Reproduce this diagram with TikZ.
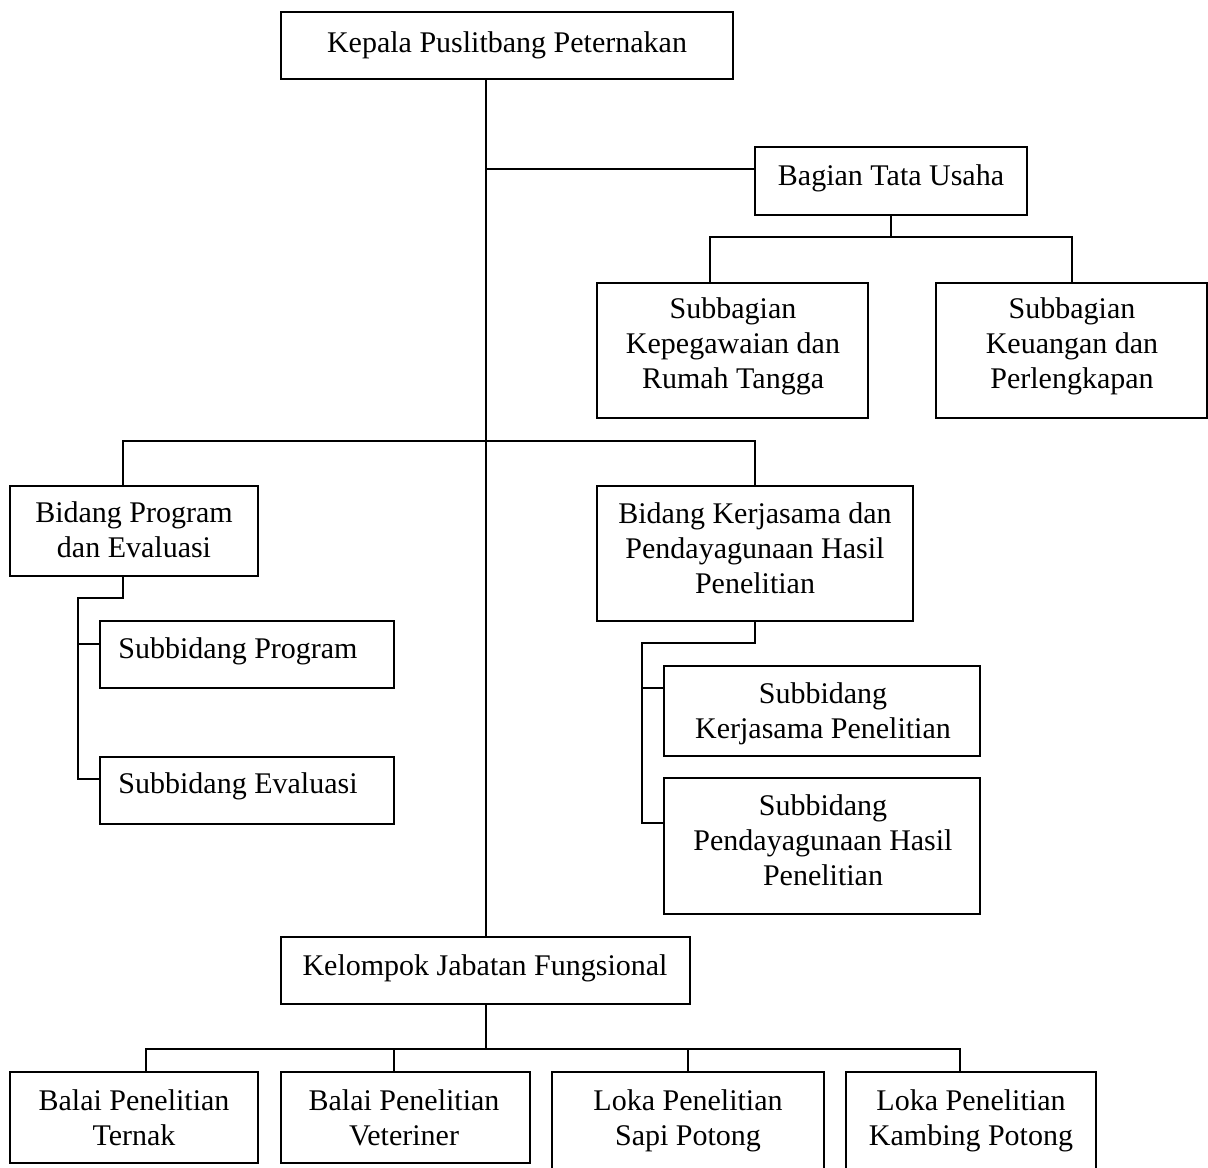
\documentclass[tikz,border=0pt]{standalone}
\usepackage{fontspec}
\setmainfont{Liberation Serif}
\tikzset{
  obox/.style={draw, line width=1pt, inner sep=0pt, rectangle},
  otext/.style={anchor=base, align=center, font=\fontsize{15}{17.3}\selectfont, inner sep=0pt},
  conn/.style={line width=1pt}
}
\newcommand{\orgbox}[5]{%
  \node[obox, minimum width={(#4-#2)*0.5pt}, minimum height={(#5-#3)*0.5pt}] (#1) at ({(#2+#4)/2},{(#3+#5)/2}) {};}
\begin{document}
\begin{tikzpicture}[x=0.5pt,y=-0.5pt]
\useasboundingbox (0,0) rectangle (1208,1167);
\clip (0,0) rectangle (1208,1167);
% boxes
\orgbox{top}{281}{12}{733}{79}
\orgbox{btu}{755}{147}{1027}{215}
\orgbox{sk}{597}{283}{868}{418}
\orgbox{sku}{936}{283}{1207}{418}
\orgbox{bp}{10}{486}{258}{576}
\orgbox{spg}{100}{621}{394}{688}
\orgbox{sev}{100}{757}{394}{824}
\orgbox{bk}{597}{486}{913}{621}
\orgbox{skp}{664}{666}{980}{756}
\orgbox{sph}{664}{778}{980}{914}
\orgbox{kjf}{281}{937}{690}{1004}
\orgbox{ba}{10}{1072}{258}{1163}
\orgbox{bb}{281}{1072}{530}{1163}
\orgbox{bc}{552}{1072}{824}{1190}
\orgbox{bd}{846}{1072}{1096}{1190}
% texts (anchor = baseline of the last line)
\node[otext] (topt) at (507,52) {Kepala Puslitbang Peternakan};
\node[otext] (btut) at (891,185) {Bagian Tata Usaha};
\node[otext] (skt) at (733,388) {Subbagian\\Kepegawaian dan\\Rumah Tangga};
\node[otext] (skut) at (1072,388) {Subbagian\\Keuangan dan\\Perlengkapan};
\node[otext] (bpt) at (134,557) {Bidang Program\\dan Evaluasi};
\node[otext] (spgt) at (238,658) {Subbidang Program};
\node[otext] (sevt) at (238,793) {Subbidang Evaluasi};
\node[otext] (bkt) at (755,593) {Bidang Kerjasama dan\\Pendayagunaan Hasil\\Penelitian};
\node[otext] (skpt) at (823,738) {Subbidang\\Kerjasama Penelitian};
\node[otext] (spht) at (823,885) {Subbidang\\Pendayagunaan Hasil\\Penelitian};
\node[otext] (kjft) at (485,975) {Kelompok Jabatan Fungsional};
\node[otext] (bat) at (134,1145) {Balai Penelitian\\Ternak};
\node[otext] (bbt) at (404,1145) {Balai Penelitian\\Veteriner};
\node[otext] (bct) at (688,1145) {Loka Penelitian\\Sapi Potong};
\node[otext] (bdt) at (971,1145) {Loka Penelitian\\Kambing Potong};
% junction coordinates
\coordinate (j1) at (485.5,169);
\coordinate (jb) at (891,237);
\coordinate (jbl) at (710,237);
\coordinate (jbr) at (1072,237);
\coordinate (jpl) at (123,441);
\coordinate (jkr) at (755,441);
\coordinate (jp1) at (123,598);
\coordinate (jp2) at (78,598);
\coordinate (jp3) at (78,644);
\coordinate (jp4) at (78,779);
\coordinate (jk1) at (755,643);
\coordinate (jk2) at (642,643);
\coordinate (jk3) at (642,688);
\coordinate (jk4) at (642,823);
\coordinate (jf) at (485.5,1049);
\coordinate (jfa) at (146,1049);
\coordinate (jfb) at (394,1049);
\coordinate (jfc) at (688,1049);
\coordinate (jfd) at (960,1049);
% connectors
\draw[conn] (top.south -| kjf.north) -- (kjf.north);
\draw[conn] (j1) -- (j1 -| btu.west);
\draw[conn] (btu.south) -- (jb);
\draw[conn] (jbl |- sk.north) -- (jbl) -- (jbr) -- (jbr |- sku.north);
\draw[conn] (jpl |- bp.north) -- (jpl) -- (jkr) -- (jkr |- bk.north);
\draw[conn] (jp1 |- bp.south) -- (jp1) -- (jp2) -- (jp4) -- (jp4 -| sev.west);
\draw[conn] (jp3) -- (jp3 -| spg.west);
\draw[conn] (jk1 |- bk.south) -- (jk1) -- (jk2) -- (jk4) -- (jk4 -| sph.west);
\draw[conn] (jk3) -- (jk3 -| skp.west);
\draw[conn] (kjf.south) -- (jf);
\draw[conn] (jfa |- ba.north) -- (jfa) -- (jfd) -- (jfd |- bd.north);
\draw[conn] (jfb) -- (jfb |- bb.north);
\draw[conn] (jfc) -- (jfc |- bc.north);
\end{tikzpicture}
\end{document}
